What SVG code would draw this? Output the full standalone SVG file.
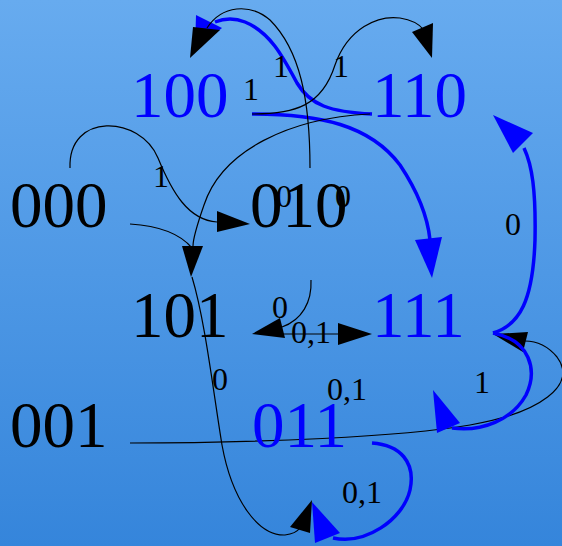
<svg xmlns="http://www.w3.org/2000/svg" width="562" height="546" viewBox="0 0 562 546">
<defs>
<linearGradient id="bg" x1="0" y1="0" x2="0" y2="1">
<stop offset="0" stop-color="#67abef"/>
<stop offset="1" stop-color="#3585db"/>
</linearGradient>
</defs>
<style>
.node{font-family:"Liberation Serif","Times New Roman",serif;font-size:65px}
.blk{fill:#000}
.blu{fill:#0000ff}
.lbl{font-family:"Liberation Serif","Times New Roman",serif;font-size:32px;fill:#000}
.e{fill:none;stroke:#000;stroke-width:1.2}
.eb{fill:none;stroke:#0000ff;stroke-width:3.5}
.ah{fill:#000;stroke:none}
.ahb{fill:#0000ff;stroke:none}
</style>
<rect width="562" height="546" fill="url(#bg)"/>
<g id="connectors">
<!-- blue 110 -> 100 -->
<path class="eb" d="M372,114 C330,112 310,105 297,83 C283,57 270,32 245,22 C235,18 225,18 215,22"/>
<polygon class="ahb" points="196,15 222,28 195,50"/>
<!-- blue 100 -> 111 -->
<path class="eb" d="M252,114 C320,114 370,125 400,165 C420,195 428,220 430,240"/>
<polygon class="ahb" points="415,240 442,237 432,278"/>
<!-- black 010 -> 100 -->
<path class="e" d="M310,168 C310,100 300,50 270,20 C250,3 222,5 207,28"/>
<polygon class="ah" points="193,27 220,30 190,58"/>
<!-- black 100 -> 110 -->
<path class="e" d="M252,114 C295,114 322,106 335,65 C348,28 378,15 400,18 C413,20 420,25 424,30"/>
<polygon class="ah" points="412,32 433,23 432,58"/>
<!-- black 000 -> 010 -->
<path class="e" d="M70,168 C68,112 140,115 158,158 C172,192 188,220 217,222"/>
<polygon class="ah" points="217,211 217,232 250,224"/>
<!-- black 000 -> 101 -->
<path class="e" d="M130,224 C162,226 182,236 192,248"/>
<!-- black 110 -> 101 -->
<path class="e" d="M370,114 C290,118 222,150 204,205 C196,228 193,240 193,246"/>
<polygon class="ah" points="182,246 203,246 191,277"/>
<!-- black 101 -> 011 -->
<path class="e" d="M192,277 C205,320 213,390 222,445 C232,500 258,536 285,535 C293,534 297,532 300,528"/>
<polygon class="ah" points="290,527 310,533 312,500"/>
<!-- blue 011 self -->
<path class="eb" d="M372,443 C400,445 416,462 410,490 C403,520 365,545 333,538"/>
<polygon class="ahb" points="340,533 315,543 312,502"/>
<!-- black 010 -> 101 -->
<path class="e" d="M311,280 C312,302 302,320 282,327"/>
<polygon class="ah" points="280,318 285,338 252,334"/>
<!-- black 101 -> 111 -->
<path class="e" d="M282,334 L338,334"/>
<polygon class="ah" points="338,323 338,345 372,334"/>
<!-- black 001 -> 111 -->
<path class="e" d="M130,443 C260,443 400,437 470,425 C540,413 578,385 557,357 C547,345 535,341 525,341"/>
<polygon class="ah" points="528,332 523,352 493,334"/>
<!-- blue 111 self -->
<path class="eb" d="M493,333 C530,340 538,370 526,395 C512,420 482,432 452,428"/>
<polygon class="ahb" points="460,423 437,433 433,390"/>
<!-- blue 111 -> 110 -->
<path class="eb" d="M493,333 C520,325 533,300 535,240 C536,190 532,165 524,148"/>
<polygon class="ahb" points="533,133 513,153 493,115"/>
</g>
<g id="labels">
<text class="lbl" x="243" y="100">1</text>
<text class="lbl" x="273" y="77">1</text>
<text class="lbl" x="333" y="77">1</text>
<text class="lbl" x="153" y="187">1</text>
<text class="lbl" x="276" y="207">0</text>
<text class="lbl" x="335" y="207">0</text>
<text class="lbl" x="272" y="318">0</text>
<text class="lbl" x="291" y="343">0,1</text>
<text class="lbl" x="212" y="390">0</text>
<text class="lbl" x="327" y="400">0,1</text>
<text class="lbl" x="474" y="393">1</text>
<text class="lbl" x="505" y="235">0</text>
<text class="lbl" x="342" y="503">0,1</text>
</g>
<g id="n100"><text class="node blu" x="131" y="117">100</text></g>
<g id="n110"><text class="node blu" x="372" y="117">110</text></g>
<g id="n000"><text class="node blk" x="10" y="227">000</text></g>
<g id="n010"><text class="node blk" x="250" y="227">010</text></g>
<g id="n101"><text class="node blk" x="131" y="337">101</text></g>
<g id="n111"><text class="node blu" x="372" y="337">111</text></g>
<g id="n001"><text class="node blk" x="10" y="447">001</text></g>
<g id="n011"><text class="node blu" x="252" y="447">011</text></g>
</svg>
